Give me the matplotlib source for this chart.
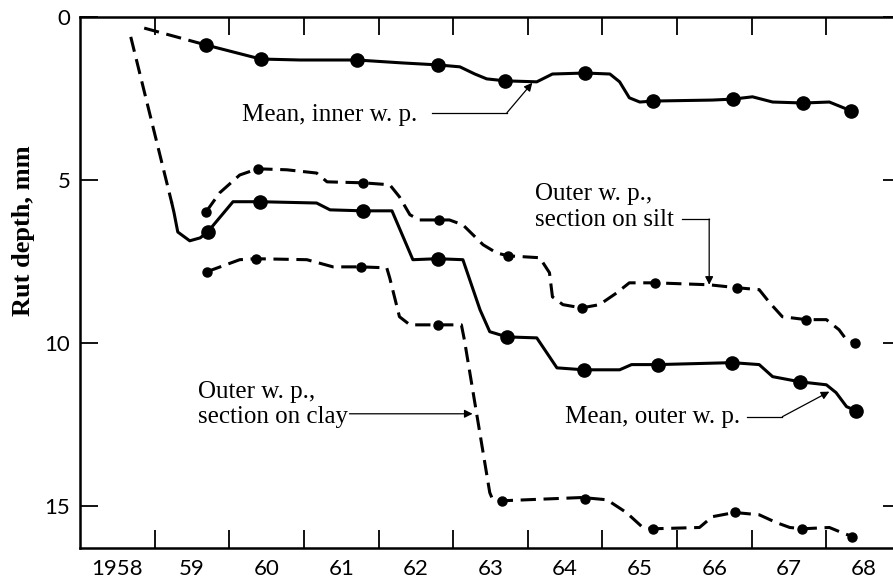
import matplotlib
matplotlib.use("Agg")
import matplotlib.pyplot as plt

# --- data (year, rut depth in mm) ---
# measured points
inner_yr = [1959.69, 1960.42, 1961.71, 1962.79, 1963.70, 1964.77, 1965.68, 1966.75, 1967.69, 1968.33]
inner_mm = [0.86, 1.29, 1.32, 1.47, 1.96, 1.72, 2.58, 2.52, 2.64, 2.88]

silt_yr = [1959.69, 1960.38, 1961.79, 1962.81, 1963.73, 1964.72, 1965.70, 1966.80, 1967.73, 1968.39]
silt_mm = [5.98, 4.66, 5.09, 6.23, 7.33, 8.93, 8.16, 8.31, 9.29, 10.00]

outer_yr = [1959.71, 1960.41, 1961.79, 1962.79, 1963.72, 1964.75, 1965.74, 1966.74, 1967.65, 1968.40]
outer_mm = [6.60, 5.67, 5.95, 7.42, 9.82, 10.83, 10.67, 10.61, 11.20, 12.09]

clay_yr = [1959.70, 1960.36, 1961.76, 1962.79, 1963.66, 1964.76, 1965.68, 1966.77, 1967.68, 1968.35]
clay_mm = [7.82, 7.42, 7.67, 9.45, 14.85, 14.79, 15.71, 15.21, 15.71, 15.95]

# hand-drawn curves
inner_lead_yr = [1958.86, 1959.69]
inner_lead_mm = [0.34, 0.86]
inner_curve_yr = [1959.69, 1960.42, 1960.95, 1961.71, 1962.32, 1962.79, 1963.09, 1963.29, 1963.45,
                  1963.70, 1964.12, 1964.33, 1964.77, 1965.10, 1965.23, 1965.36, 1965.50, 1965.68,
                  1966.47, 1966.75, 1967.01, 1967.28, 1967.69, 1968.04, 1968.33]
inner_curve_mm = [0.86, 1.29, 1.32, 1.32, 1.41, 1.47, 1.53, 1.75, 1.90,
                  1.96, 1.99, 1.75, 1.72, 1.75, 1.99, 2.48, 2.61, 2.58,
                  2.55, 2.52, 2.45, 2.61, 2.64, 2.61, 2.88]

silt_curve_yr = [1959.69, 1959.87, 1960.14, 1960.38, 1960.77, 1961.17, 1961.31, 1961.79, 1962.15,
                 1962.28, 1962.42, 1962.55, 1962.81, 1962.95, 1963.13, 1963.40, 1963.58, 1963.73,
                 1964.16, 1964.29, 1964.33, 1964.47, 1964.72, 1964.96, 1965.19, 1965.36, 1965.70,
                 1966.43, 1966.80, 1967.10, 1967.24, 1967.41, 1967.73, 1968.00, 1968.17, 1968.27, 1968.39]
silt_curve_mm = [5.98, 5.40, 4.85, 4.66, 4.69, 4.79, 5.06, 5.09, 5.15,
                 5.52, 6.07, 6.23, 6.23, 6.23, 6.38, 6.99, 7.24, 7.33,
                 7.39, 7.85, 8.59, 8.83, 8.93, 8.83, 8.47, 8.16, 8.16,
                 8.22, 8.31, 8.37, 8.77, 9.20, 9.29, 9.29, 9.60, 9.91, 10.00]

outer_lead_yr = [1958.68, 1959.23]
outer_lead_mm = [0.61, 5.71]
outer_curve_yr = [1959.23, 1959.26, 1959.31, 1959.47, 1959.61, 1959.71, 1960.05, 1960.41, 1961.17,
                  1961.35, 1961.79, 1962.18, 1962.46, 1962.79, 1963.13, 1963.36, 1963.49, 1963.72,
                  1964.12, 1964.39, 1964.75, 1965.23, 1965.39, 1965.74, 1966.74, 1967.10, 1967.28,
                  1967.65, 1968.00, 1968.13, 1968.27, 1968.40]
outer_curve_mm = [5.71, 6.01, 6.60, 6.87, 6.78, 6.60, 5.67, 5.67, 5.71,
                  5.92, 5.95, 5.95, 7.45, 7.42, 7.45, 8.99, 9.66, 9.82,
                  9.85, 10.77, 10.83, 10.83, 10.67, 10.67, 10.61, 10.67, 11.04,
                  11.20, 11.29, 11.53, 11.96, 12.09]

clay_curve_yr = [1959.70, 1960.14, 1960.36, 1961.04, 1961.39, 1961.76, 1962.11, 1962.15, 1962.28,
                 1962.42, 1962.79, 1963.11, 1963.15, 1963.49, 1963.53, 1963.66, 1964.73, 1965.06,
                 1965.32, 1965.54, 1965.68, 1966.30, 1966.47, 1966.77, 1967.10, 1967.33, 1967.51,
                 1967.68, 1968.04, 1968.21, 1968.35]
clay_curve_mm = [7.82, 7.45, 7.42, 7.45, 7.67, 7.67, 7.70, 8.01, 9.20,
                 9.45, 9.45, 9.45, 9.91, 14.60, 14.82, 14.85, 14.75, 14.82,
                 15.21, 15.67, 15.71, 15.67, 15.34, 15.21, 15.28, 15.52, 15.67,
                 15.71, 15.67, 15.83, 15.95]

year_ticks = list(range(1959, 1969))
year_label_pos = [1958.5 + i for i in range(11)]
year_labels = ["1958", "59", "60", "61", "62", "63", "64", "65", "66", "67", "68"]
depth_ticks = [0, 5, 10, 15]

# --- figure ---
fig = plt.figure(figsize=(8.93, 5.84), dpi=100)
ax = fig.add_axes([80 / 893, 36 / 584, 821 / 893, 531 / 584])

lw = 2.2
dash = (0, (5, 2.5))
ax.plot(inner_lead_yr, inner_lead_mm, color="black", lw=lw, linestyle=dash)
ax.plot(inner_curve_yr, inner_curve_mm, color="black", lw=lw, solid_joinstyle="round")
ax.plot(inner_yr, inner_mm, "o", color="black", ms=9.5)

ax.plot(outer_lead_yr, outer_lead_mm, color="black", lw=lw, linestyle=dash)
ax.plot(outer_curve_yr, outer_curve_mm, color="black", lw=lw, solid_joinstyle="round")
ax.plot(outer_yr, outer_mm, "o", color="black", ms=9.5)

ax.plot(silt_curve_yr, silt_curve_mm, color="black", lw=lw, linestyle=dash)
ax.plot(silt_yr, silt_mm, "o", color="black", ms=6.5)

ax.plot(clay_curve_yr, clay_curve_mm, color="black", lw=lw, linestyle=dash)
ax.plot(clay_yr, clay_mm, "o", color="black", ms=6.5)

ax.set_xlim(1958, 1969)
ax.set_ylim(16.3, 0)

ax.set_xticks(year_ticks)
ax.set_xticklabels([])
ax.set_xticks(year_label_pos, year_labels, minor=True)
ax.set_yticks(depth_ticks)
ax.set_yticklabels([str(v) for v in depth_ticks])
ax.tick_params(which="major", direction="in", length=13, width=1.3,
               top=True, right=True, labelsize=16, pad=7)
ax.tick_params(which="minor", length=0, labelsize=16, pad=8)
for lab in ax.get_xticklabels(minor=True) + ax.get_yticklabels():
    lab.set_family("Lato")

for side in ["left", "bottom", "top"]:
    ax.spines[side].set_linewidth(1.8)
ax.spines["right"].set_visible(False)

ax.set_ylabel("Rut depth, mm", family="Liberation Serif", weight="bold", fontsize=19)
ax.yaxis.set_label_coords(-0.055, 0.597)

# --- callouts ---
serif = dict(family="Liberation Serif", fontsize=18, color="black")
arrow = dict(arrowstyle="-|>", lw=0.9, color="black", mutation_scale=12, shrinkA=0, shrinkB=0)

ax.text(1962.52, 3.01, "Mean, inner w. p.", ha="right", va="center", **serif)
ax.plot([1962.71, 1963.72], [2.94, 2.94], color="black", lw=0.9)
ax.annotate("", xy=(1964.06, 2.02), xytext=(1963.72, 2.94), arrowprops=arrow)

ax.text(1964.09, 5.83, "Outer w. p.,\nsection on silt", ha="left", va="center",
        linespacing=1.2, **serif)
ax.plot([1966.07, 1966.43], [6.20, 6.20], color="black", lw=0.9)
ax.annotate("", xy=(1966.43, 8.22), xytext=(1966.43, 6.20), arrowprops=arrow)

ax.text(1966.84, 12.27, "Mean, outer w. p.", ha="right", va="center", **serif)
ax.plot([1966.93, 1967.41], [12.27, 12.27], color="black", lw=0.9)
ax.annotate("", xy=(1968.04, 11.50), xytext=(1967.41, 12.27), arrowprops=arrow)

ax.text(1959.58, 11.90, "Outer w. p.,\nsection on clay", ha="left", va="center",
        linespacing=1.2, **serif)
ax.annotate("", xy=(1963.26, 12.18), xytext=(1961.61, 12.18), arrowprops=arrow)

fig.savefig("out.png", dpi=100)
